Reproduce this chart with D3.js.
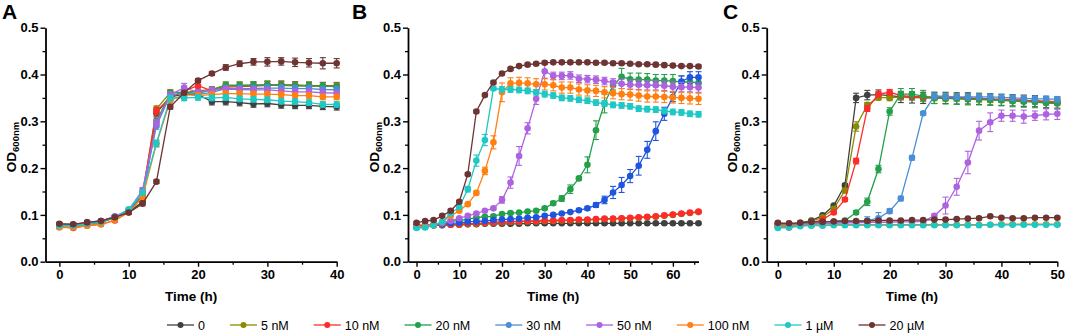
<!DOCTYPE html>
<html>
<head>
<meta charset="utf-8">
<script src="https://cdn.jsdelivr.net/npm/d3@7"></script>
<style>
body { margin: 0; background: #fff; }
text { font-family: "Liberation Sans", Arial, sans-serif; }
</style>
</head>
<body>
<div id="chart"></div>
<script>

//config var and add svg
var WD = 1065, HT = 335

var seriesNames = ["0", "5 nM", "10 nM", "20 nM", "30 nM", "50 nM", "100 nM", "1 µM", "20 µM"]
var seriesColors = ["#404040", "#8a8a00", "#ff2a2a", "#23a049", "#4a8fd6", "#ad62e0", "#ff7f10", "#1ec8c4", "#6e3434"]

// time points (h)
var timeA = [0,2,4,6,8,10,12,14,16,18,20,22,24,26,28,30,32,34,36,38,40]
var timeB = [0,2,4,6,8,10,12,14,16,18,20,22,24,26,28,30,32,34,36,38,40,42,44,46,48,50,52,54,56,58,60,62,64,66]
var timeC = [0,2,4,6,8,10,12,14,16,18,20,22,24,26,28,30,32,34,36,38,40,42,44,46,48,50]

var yTicks = [0, 0.1, 0.2, 0.3, 0.4, 0.5]

// panel A, OD600 per series (same order as seriesNames)
var odA = [
  [0.080,0.079,0.084,0.087,0.096,0.106,0.128,0.318,0.352,0.358,0.357,0.342,0.342,0.340,0.337,0.338,0.335,0.334,0.334,0.332,0.331],
  [0.078,0.077,0.081,0.084,0.094,0.107,0.140,0.326,0.362,0.362,0.365,0.368,0.377,0.377,0.377,0.378,0.378,0.377,0.376,0.376,0.376],
  [0.075,0.072,0.077,0.080,0.088,0.106,0.146,0.322,0.350,0.365,0.376,0.365,0.373,0.374,0.375,0.377,0.378,0.377,0.376,0.375,0.375],
  [0.077,0.076,0.080,0.084,0.094,0.107,0.140,0.300,0.360,0.362,0.360,0.367,0.376,0.376,0.377,0.378,0.377,0.376,0.376,0.375,0.374],
  [0.078,0.077,0.081,0.085,0.095,0.109,0.145,0.290,0.356,0.360,0.357,0.362,0.370,0.370,0.370,0.371,0.371,0.370,0.370,0.368,0.367],
  [0.080,0.079,0.083,0.087,0.097,0.111,0.153,0.296,0.357,0.372,0.362,0.367,0.369,0.368,0.367,0.367,0.365,0.363,0.363,0.361,0.360],
  [0.073,0.073,0.077,0.080,0.089,0.105,0.138,0.252,0.345,0.357,0.355,0.357,0.359,0.359,0.358,0.358,0.357,0.355,0.355,0.352,0.352],
  [0.077,0.077,0.081,0.085,0.095,0.112,0.148,0.253,0.350,0.350,0.351,0.350,0.351,0.348,0.347,0.346,0.343,0.342,0.340,0.336,0.336],
  [0.081,0.080,0.084,0.087,0.095,0.105,0.124,0.171,0.331,0.361,0.387,0.402,0.415,0.423,0.427,0.427,0.428,0.426,0.425,0.424,0.424]
]
var errA = [
  [.003,.003,.003,.003,.003,.003,.004,.007,.006,.006,.006,.007,.007,.007,.007,.007,.007,.007,.007,.007,.007],
  [.003,.003,.003,.003,.003,.003,.004,.007,.006,.007,.008,.006,.007,.007,.007,.008,.008,.007,.007,.007,.007],
  [.003,.003,.003,.003,.003,.003,.004,.008,.006,.006,.008,.006,.008,.008,.008,.008,.008,.008,.008,.008,.008],
  [.003,.003,.003,.003,.003,.003,.004,.007,.006,.007,.007,.006,.008,.008,.008,.008,.008,.008,.008,.008,.008],
  [.003,.003,.003,.003,.003,.003,.004,.007,.006,.007,.006,.006,.007,.007,.007,.007,.007,.007,.007,.007,.007],
  [.003,.003,.003,.003,.003,.003,.005,.008,.006,.009,.006,.006,.006,.006,.006,.006,.006,.006,.006,.006,.006],
  [.003,.003,.003,.003,.003,.003,.004,.007,.006,.006,.006,.006,.006,.006,.006,.006,.006,.006,.006,.006,.006],
  [.003,.003,.003,.003,.003,.003,.004,.007,.006,.006,.006,.006,.006,.006,.006,.006,.006,.006,.006,.006,.006],
  [.003,.003,.003,.003,.003,.003,.004,.004,.005,.004,.004,.004,.006,.006,.007,.009,.008,.009,.009,.012,.010]
]

// panel B
var odB = [
  [0.077,0.077,0.078,0.078,0.079,0.079,0.080,0.080,0.081,0.081,0.081,0.081,0.081,0.082,0.082,0.082,0.082,0.082,0.082,0.082,0.082,0.082,0.082,0.082,0.082,0.082,0.082,0.082,0.082,0.082,0.082,0.082,0.082,0.082],
  [0.077,0.077,0.078,0.078,0.079,0.079,0.080,0.081,0.082,0.083,0.084,0.085,0.085,0.086,0.086,0.087,0.087,0.088,0.088,0.089,0.089,0.090,0.091,0.091,0.092,0.093,0.094,0.095,0.096,0.098,0.100,0.102,0.104,0.106],
  [0.078,0.078,0.078,0.079,0.079,0.080,0.081,0.082,0.083,0.084,0.085,0.086,0.086,0.087,0.087,0.088,0.088,0.089,0.089,0.090,0.090,0.091,0.092,0.092,0.093,0.094,0.095,0.096,0.097,0.099,0.101,0.103,0.105,0.107],
  [0.074,0.075,0.079,0.083,0.086,0.088,0.091,0.094,0.096,0.097,0.102,0.104,0.105,0.107,0.109,0.114,0.125,0.135,0.155,0.178,0.207,0.281,0.338,0.377,0.395,0.390,0.389,0.389,0.387,0.387,0.386,0.384,0.384,0.382],
  [0.074,0.074,0.078,0.080,0.082,0.083,0.085,0.086,0.087,0.089,0.090,0.091,0.092,0.094,0.095,0.098,0.100,0.103,0.106,0.110,0.114,0.121,0.132,0.148,0.164,0.183,0.205,0.239,0.279,0.316,0.352,0.385,0.394,0.394],
  [0.075,0.076,0.079,0.082,0.087,0.093,0.098,0.103,0.109,0.114,0.132,0.169,0.226,0.285,0.348,0.407,0.397,0.397,0.398,0.391,0.390,0.389,0.386,0.383,0.380,0.378,0.378,0.377,0.377,0.376,0.374,0.373,0.373,0.372],
  [0.075,0.075,0.078,0.085,0.098,0.109,0.123,0.147,0.194,0.255,0.362,0.381,0.382,0.381,0.379,0.379,0.377,0.372,0.372,0.368,0.366,0.365,0.362,0.360,0.358,0.357,0.355,0.353,0.353,0.352,0.351,0.350,0.349,0.348],
  [0.072,0.073,0.078,0.085,0.103,0.117,0.155,0.216,0.260,0.370,0.368,0.368,0.367,0.365,0.362,0.358,0.355,0.350,0.349,0.346,0.344,0.340,0.338,0.335,0.334,0.332,0.327,0.326,0.325,0.322,0.320,0.319,0.316,0.315],
  [0.083,0.087,0.089,0.098,0.109,0.128,0.187,0.321,0.356,0.383,0.402,0.412,0.418,0.421,0.423,0.425,0.426,0.426,0.426,0.426,0.426,0.425,0.425,0.424,0.424,0.423,0.422,0.422,0.421,0.420,0.419,0.418,0.418,0.417]
]
var errB = [
  [.002,.002,.002,.002,.002,.002,.002,.002,.002,.002,.002,.002,.002,.002,.002,.002,.002,.002,.002,.002,.002,.002,.002,.002,.002,.002,.002,.002,.002,.002,.002,.002,.002,.002],
  [.002,.002,.002,.002,.002,.002,.002,.002,.002,.002,.002,.002,.002,.002,.002,.002,.002,.002,.002,.002,.002,.002,.002,.002,.002,.002,.002,.002,.002,.002,.002,.002,.002,.002],
  [.002,.002,.002,.002,.002,.002,.002,.002,.002,.002,.002,.002,.002,.002,.002,.002,.002,.002,.002,.002,.002,.002,.002,.002,.002,.002,.002,.002,.002,.002,.002,.002,.002,.002],
  [.002,.002,.002,.002,.002,.002,.002,.002,.002,.002,.002,.002,.002,.002,.002,.003,.004,.006,.009,.004,.017,.020,.020,.010,.018,.013,.014,.013,.013,.013,.014,.013,.010,.010],
  [.002,.002,.002,.002,.002,.002,.002,.002,.002,.002,.002,.002,.002,.002,.002,.002,.002,.002,.002,.003,.004,.005,.008,.013,.016,.014,.020,.018,.020,.014,.010,.012,.012,.012],
  [.002,.002,.002,.002,.002,.002,.002,.002,.002,.003,.007,.012,.020,.012,.012,.015,.008,.008,.008,.008,.008,.008,.008,.008,.010,.010,.010,.010,.010,.010,.010,.010,.010,.010],
  [.002,.002,.002,.002,.002,.002,.002,.004,.008,.014,.020,.012,.012,.012,.012,.012,.012,.012,.012,.012,.012,.012,.012,.012,.012,.012,.012,.012,.012,.012,.012,.012,.012,.012],
  [.002,.002,.002,.002,.002,.002,.006,.012,.012,.004,.006,.006,.006,.006,.006,.006,.006,.006,.006,.006,.006,.006,.006,.006,.006,.006,.006,.006,.006,.006,.006,.006,.006,.006],
  [.003,.003,.003,.003,.003,.003,.003,.003,.003,.003,.003,.003,.003,.003,.003,.003,.003,.003,.003,.003,.003,.003,.003,.003,.003,.003,.003,.003,.003,.003,.003,.003,.003,.003]
]

// panel C
var odC = [
  [0.082,0.081,0.083,0.088,0.099,0.120,0.163,0.350,0.356,0.357,0.355,0.352,0.351,0.350,0.350,0.350,0.349,0.349,0.348,0.347,0.346,0.345,0.344,0.343,0.341,0.340],
  [0.080,0.079,0.082,0.086,0.095,0.113,0.152,0.289,0.335,0.351,0.350,0.352,0.352,0.351,0.350,0.349,0.349,0.348,0.347,0.346,0.346,0.345,0.344,0.344,0.343,0.342],
  [0.075,0.073,0.079,0.083,0.090,0.105,0.133,0.215,0.327,0.358,0.362,0.355,0.353,0.352,0.352,0.351,0.351,0.350,0.349,0.348,0.347,0.346,0.345,0.343,0.341,0.340],
  [0.077,0.077,0.080,0.082,0.084,0.086,0.088,0.105,0.128,0.198,0.321,0.358,0.358,0.354,0.350,0.349,0.348,0.347,0.347,0.346,0.345,0.343,0.342,0.341,0.339,0.338],
  [0.078,0.078,0.080,0.081,0.082,0.083,0.084,0.085,0.088,0.093,0.108,0.135,0.222,0.317,0.354,0.353,0.352,0.352,0.352,0.352,0.351,0.350,0.349,0.348,0.348,0.347],
  [0.075,0.076,0.078,0.080,0.081,0.082,0.083,0.083,0.084,0.084,0.084,0.085,0.085,0.086,0.098,0.120,0.160,0.212,0.280,0.298,0.312,0.312,0.310,0.312,0.315,0.316],
  [0.076,0.076,0.077,0.078,0.078,0.079,0.079,0.079,0.079,0.079,0.079,0.079,0.079,0.079,0.079,0.079,0.079,0.079,0.079,0.079,0.080,0.080,0.080,0.080,0.080,0.080],
  [0.072,0.073,0.076,0.077,0.077,0.078,0.078,0.078,0.078,0.078,0.078,0.078,0.078,0.078,0.078,0.078,0.078,0.078,0.078,0.079,0.079,0.079,0.079,0.079,0.079,0.079],
  [0.083,0.082,0.083,0.085,0.085,0.086,0.087,0.087,0.087,0.088,0.088,0.088,0.089,0.089,0.090,0.090,0.091,0.092,0.093,0.097,0.094,0.093,0.093,0.094,0.094,0.094]
]
var errC = [
  [.002,.002,.002,.002,.002,.002,.004,.010,.010,.010,.008,.012,.012,.012,.012,.012,.012,.012,.012,.012,.012,.012,.012,.012,.012,.012],
  [.002,.002,.002,.002,.002,.002,.005,.010,.005,.006,.006,.006,.006,.006,.006,.006,.006,.006,.006,.006,.006,.006,.006,.006,.006,.006],
  [.002,.002,.002,.002,.002,.002,.004,.006,.006,.006,.006,.006,.006,.006,.006,.006,.006,.006,.006,.006,.006,.006,.006,.006,.006,.006],
  [.002,.002,.002,.002,.002,.002,.002,.004,.008,.008,.008,.012,.012,.012,.012,.012,.012,.012,.012,.012,.012,.012,.012,.012,.012,.012],
  [.002,.002,.002,.002,.002,.002,.002,.002,.008,.012,.005,.005,.005,.004,.006,.006,.006,.006,.006,.006,.006,.006,.006,.006,.006,.006],
  [.002,.002,.002,.002,.002,.002,.002,.002,.002,.002,.002,.002,.002,.002,.004,.018,.018,.024,.020,.020,.012,.012,.014,.010,.012,.012],
  [.002,.002,.002,.002,.002,.002,.002,.002,.002,.002,.002,.002,.002,.002,.002,.002,.002,.002,.002,.002,.002,.002,.002,.002,.002,.002],
  [.002,.002,.002,.002,.002,.002,.002,.002,.002,.002,.002,.002,.002,.002,.002,.002,.002,.002,.002,.002,.002,.002,.002,.002,.002,.002],
  [.002,.002,.002,.002,.002,.002,.002,.002,.002,.002,.002,.002,.002,.002,.002,.002,.002,.002,.002,.002,.002,.002,.002,.002,.002,.002]
]

var panels = [
  { letter: "A", time: timeA, od: odA, err: errA, xMax: 40, left: 45.5, right: 336.7, letterX: 2, yLabelX: 16 },
  { letter: "B", time: timeB, od: odB, err: errB, xMax: 66, left: 408, right: 698.5, letterX: 352, yLabelX: 379 },
  { letter: "C", time: timeC, od: odC, err: errC, xMax: 50, left: 766.7, right: 1057.3, letterX: 723, yLabelX: 737 }
]
// the 30 nM curve in B is a deeper blue
var blueB = "#1f55de"

var svg = d3.select("#chart")
  .append("svg")
    .attr("width", WD)
    .attr("height", HT)

var y = d3.scaleLinear().domain([0, 0.5]).range([261.7, 27.7])

panels.forEach(function(p, pi) {

  var x = d3.scaleLinear().domain([-2, p.xMax]).range([p.left, p.right])
  var g = svg.append("g").attr("class", "panel-" + p.letter)

  var majorX = d3.range(0, p.xMax + 1, 10)
  var minorX = d3.range(5, p.xMax + 1, 10)

  // minor ticks
  g.append("g")
    .attr("transform", "translate(0," + y(0) + ")")
    .call(d3.axisBottom(x).tickValues(minorX).tickSize(3).tickSizeOuter(0).tickFormat(""))
    .call(function(a) { a.select(".domain").remove(); a.selectAll("line").attr("stroke-width", 1.3) })
  g.append("g")
    .attr("transform", "translate(" + p.left + ",0)")
    .call(d3.axisLeft(y).tickValues([0.05, 0.15, 0.25, 0.35, 0.45]).tickSize(3).tickSizeOuter(0).tickFormat(""))
    .call(function(a) { a.select(".domain").remove(); a.selectAll("line").attr("stroke-width", 1.3) })

  // major axes
  var xAxis = g.append("g")
    .attr("transform", "translate(0," + y(0) + ")")
    .call(d3.axisBottom(x).tickValues(majorX).tickSize(5).tickSizeOuter(0).tickPadding(3))
  var yAxis = g.append("g")
    .attr("transform", "translate(" + p.left + ",0)")
    .call(d3.axisLeft(y).tickValues(yTicks).tickFormat(d3.format(".1f")).tickSize(5).tickSizeOuter(0).tickPadding(2))

  ;[xAxis, yAxis].forEach(function(a) {
    a.select(".domain").attr("stroke-width", 1.8)
    a.selectAll("line").attr("stroke-width", 1.4)
    a.selectAll("text")
      .attr("fill", "#000")
      .style("font-family", "'Liberation Sans', Arial, sans-serif")
      .style("font-size", "13px")
      .style("font-weight", "bold")
  })

  // axis titles
  g.append("text")
    .attr("x", (p.left + p.right) / 2)
    .attr("y", 301)
    .attr("text-anchor", "middle")
    .style("font-size", "13.5px")
    .style("font-weight", "bold")
    .text("Time (h)")

  var yl = g.append("text")
    .attr("transform", "translate(" + p.yLabelX + ",147) rotate(-90)")
    .attr("text-anchor", "middle")
    .style("font-size", "13.5px")
    .style("font-weight", "bold")
  yl.append("tspan").text("OD")
  yl.append("tspan").attr("dy", 3).style("font-size", "9.5px").text("600nm")

  g.append("text")
    .attr("x", p.letterX)
    .attr("y", 18.5)
    .style("font-size", "21px")
    .style("font-weight", "bold")
    .text(p.letter)

  var line = d3.line()
    .x(function(d) { return x(d.t) })
    .y(function(d) { return y(d.v) })

  // series, later ones on top
  p.od.forEach(function(vals, si) {
    var col = (p.letter == "B" && si == 4) ? blueB : seriesColors[si]
    var pts = vals.map(function(v, i) { return { t: p.time[i], v: v, e: p.err[si][i] || 0 } })
    var sg = g.append("g").attr("class", "series")

    sg.append("path")
      .datum(pts)
      .attr("d", line)
      .attr("fill", "none")
      .attr("stroke", col)
      .attr("stroke-width", 1.3)

    var eb = sg.selectAll(".err").data(pts).enter().append("g").attr("class", "err")
      .attr("stroke", col).attr("stroke-width", 1.1)
    eb.append("line")
      .attr("x1", function(d) { return x(d.t) }).attr("x2", function(d) { return x(d.t) })
      .attr("y1", function(d) { return y(d.v - d.e) }).attr("y2", function(d) { return y(d.v + d.e) })
    eb.append("line")
      .attr("x1", function(d) { return x(d.t) - 3 }).attr("x2", function(d) { return x(d.t) + 3 })
      .attr("y1", function(d) { return y(d.v + d.e) }).attr("y2", function(d) { return y(d.v + d.e) })
    eb.append("line")
      .attr("x1", function(d) { return x(d.t) - 3 }).attr("x2", function(d) { return x(d.t) + 3 })
      .attr("y1", function(d) { return y(d.v - d.e) }).attr("y2", function(d) { return y(d.v - d.e) })

    sg.selectAll("circle").data(pts).enter().append("circle")
      .attr("cx", function(d) { return x(d.t) })
      .attr("cy", function(d) { return y(d.v) })
      .attr("r", 3.3)
      .attr("fill", col)
  })
})

// legend
var legend = svg.append("g").attr("class", "legend")
var lx = 167
seriesNames.forEach(function(name, i) {
  var item = legend.append("g").attr("transform", "translate(" + lx + ",325)")
  item.append("line").attr("x1", 0).attr("x2", 27).attr("y1", 0).attr("y2", 0)
    .attr("stroke", seriesColors[i]).attr("stroke-width", 1.3)
  item.append("circle").attr("cx", 13.5).attr("cy", 0).attr("r", 3).attr("fill", seriesColors[i])
  var t = item.append("text").attr("x", 31).attr("y", 4.5)
    .style("font-size", "12.5px")
    .text(name)
  lx += 31 + t.node().getComputedTextLength() + 25
})

</script>
</body>
</html>
